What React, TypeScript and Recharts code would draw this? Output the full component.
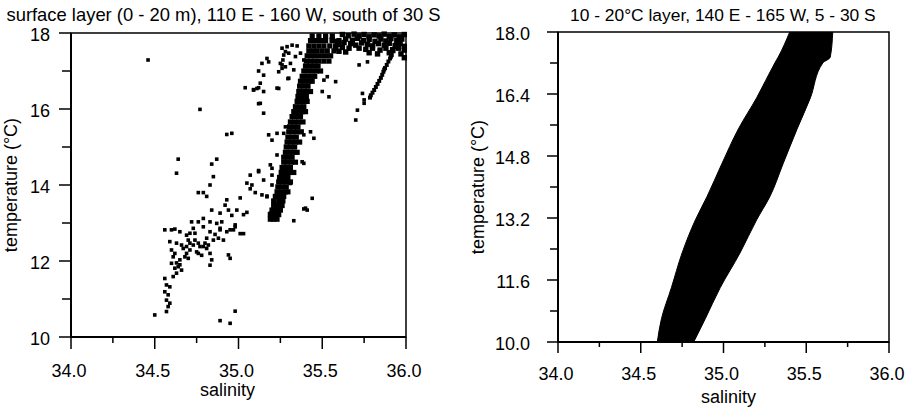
import React from 'react';
import {
  ScatterChart,
  Scatter,
  ComposedChart,
  Area,
  XAxis,
  YAxis,
  ReferenceArea,
  Label
} from 'recharts';

const FONT = '"Liberation Sans", Arial, Helvetica, sans-serif';

// left panel: surface layer T-S points [salinity, temperature]
const lowerCluster: number[][] = [
  [34.76, 13.8], [34.79, 13.8], [34.81, 13.7], [35.07, 14.26], [35.12, 14.38], [35.05, 14.05], [35.07, 13.9],
  [35.1, 13.8], [35.08, 14.0], [35.17, 13.69], [35.01, 13.66], [34.93, 13.61], [34.92, 13.47], [34.94, 13.34],
  [34.99, 13.34], [34.84, 13.34], [34.89, 13.26], [34.83, 13.03], [34.87, 12.99], [34.9, 13.03], [34.89, 12.86],
  [34.95, 12.82], [34.98, 12.9], [34.79, 13.12], [34.76, 13.03], [34.72, 13.03], [34.73, 12.86], [34.71, 12.73],
  [34.74, 12.73], [34.56, 12.82], [34.6, 12.82], [34.62, 12.84], [34.65, 12.77], [34.69, 12.68], [34.7, 12.55],
  [34.83, 12.77], [34.89, 12.82], [34.93, 12.77], [34.97, 12.82], [34.81, 12.6], [34.85, 12.55], [34.88, 12.6],
  [34.91, 12.55], [34.59, 12.51], [34.63, 12.47], [34.66, 12.42], [34.69, 12.38], [34.71, 12.47], [34.73, 12.42],
  [34.76, 12.47], [34.79, 12.38], [34.82, 12.42], [34.6, 12.29], [34.61, 12.11], [34.6, 11.94], [34.62, 11.81],
  [34.63, 11.68], [34.61, 11.59], [34.65, 12.03], [34.64, 11.85], [34.66, 11.76], [34.67, 12.33], [34.69, 12.2],
  [34.71, 12.29], [34.75, 12.24], [34.77, 12.38], [34.8, 12.47], [34.81, 12.33], [34.83, 12.2], [34.68, 12.11],
  [34.7, 12.07], [34.84, 12.03], [34.83, 11.89], [34.56, 11.54], [34.57, 11.37], [34.59, 11.32], [34.56, 11.19],
  [34.58, 11.11], [34.57, 10.97], [34.59, 10.89], [34.58, 10.8], [34.57, 10.67], [34.98, 12.95], [35.01, 12.72],
  [35.03, 12.72], [34.96, 13.2], [35.03, 13.22], [35.05, 13.28], [34.86, 12.7], [34.76, 12.2], [34.78, 12.15],
  [34.74, 12.55], [34.79, 12.9], [34.62, 12.2], [34.63, 11.95], [34.65, 11.9]
];

const trunk: number[][] = [
  [35.19, 13.1], [35.21, 13.1], [35.23, 13.1], [35.19, 13.22], [35.215, 13.22], [35.24, 13.22],
  [35.2, 13.34], [35.225, 13.34], [35.25, 13.34], [35.21, 13.46], [35.235, 13.46], [35.26, 13.46],
  [35.21, 13.58], [35.24, 13.58], [35.265, 13.58], [35.22, 13.7], [35.245, 13.7], [35.27, 13.7],
  [35.23, 13.82], [35.255, 13.82], [35.28, 13.82], [35.295, 13.82], [35.235, 13.95], [35.26, 13.95], [35.285, 13.95],
  [35.24, 14.08], [35.265, 14.08], [35.29, 14.08], [35.31, 14.08], [35.245, 14.2], [35.27, 14.2], [35.295, 14.2],
  [35.255, 14.33], [35.28, 14.33], [35.305, 14.33], [35.33, 14.33], [35.26, 14.46], [35.285, 14.46], [35.31, 14.46],
  [35.27, 14.6], [35.29, 14.6], [35.315, 14.6], [35.34, 14.6], [35.27, 14.73], [35.295, 14.73], [35.32, 14.73],
  [35.28, 14.86], [35.3, 14.86], [35.325, 14.86], [35.35, 14.86], [35.285, 15.0], [35.31, 15.0], [35.335, 15.0],
  [35.29, 15.13], [35.315, 15.13], [35.34, 15.13], [35.365, 15.13], [35.295, 15.26], [35.32, 15.26], [35.345, 15.26],
  [35.3, 15.4], [35.325, 15.4], [35.35, 15.4], [35.375, 15.4], [35.305, 15.53], [35.33, 15.53], [35.355, 15.53],
  [35.31, 15.66], [35.335, 15.66], [35.36, 15.66], [35.385, 15.66], [35.32, 15.8], [35.345, 15.8], [35.37, 15.8],
  [35.33, 15.93], [35.355, 15.93], [35.38, 15.93], [35.4, 15.93], [35.34, 16.06], [35.365, 16.06], [35.39, 16.06],
  [35.35, 16.2], [35.37, 16.2], [35.395, 16.2], [35.41, 16.2], [35.355, 16.33], [35.38, 16.33], [35.405, 16.33],
  [35.36, 16.46], [35.385, 16.46], [35.41, 16.46], [35.43, 16.46], [35.365, 16.6], [35.39, 16.6], [35.415, 16.6],
  [35.37, 16.73], [35.395, 16.73], [35.42, 16.73], [35.44, 16.73], [35.38, 16.86], [35.405, 16.86], [35.43, 16.86],
  [35.455, 16.86], [35.39, 17.0], [35.415, 17.0], [35.44, 17.0], [35.465, 17.0], [35.49, 17.0],
  [35.4, 17.13], [35.425, 17.13], [35.45, 17.13], [35.475, 17.13], [35.405, 17.26], [35.43, 17.26], [35.455, 17.26],
  [35.48, 17.26], [35.51, 17.26], [35.54, 17.26], [35.41, 17.4], [35.435, 17.4], [35.46, 17.4], [35.49, 17.4],
  [35.52, 17.4], [35.55, 17.4], [35.42, 17.53], [35.445, 17.53], [35.47, 17.53], [35.5, 17.53], [35.53, 17.53],
  [35.57, 17.53], [35.42, 17.66], [35.45, 17.66], [35.48, 17.66], [35.51, 17.66], [35.545, 17.66], [35.58, 17.66],
  [35.43, 17.8], [35.46, 17.8], [35.49, 17.8], [35.52, 17.8], [35.56, 17.8], [35.6, 17.8], [35.44, 17.92],
  [35.48, 17.92], [35.52, 17.92], [35.56, 17.92]
];

const upperCluster: number[][] = [
  [35.62, 17.96], [35.655, 17.93], [35.69, 17.97], [35.72, 17.92], [35.75, 17.96], [35.78, 17.9], [35.81, 17.95],
  [35.84, 17.92], [35.87, 17.97], [35.9, 17.91], [35.93, 17.95], [35.96, 17.9], [35.99, 17.96],
  [35.64, 17.84], [35.68, 17.81], [35.71, 17.86], [35.745, 17.8], [35.78, 17.83], [35.815, 17.78], [35.85, 17.84],
  [35.88, 17.79], [35.91, 17.85], [35.945, 17.8], [35.975, 17.84],
  [35.67, 17.72], [35.7, 17.68], [35.735, 17.74], [35.77, 17.7], [35.8, 17.66], [35.835, 17.72], [35.87, 17.68],
  [35.9, 17.73], [35.935, 17.67], [35.965, 17.72], [35.99, 17.65],
  [35.72, 17.6], [35.76, 17.57], [35.8, 17.6], [35.845, 17.55], [35.88, 17.6], [35.92, 17.56], [35.955, 17.6],
  [35.78, 17.48], [35.83, 17.45], [35.9, 17.48], [35.97, 17.45], [35.99, 17.55], [35.99, 17.35],
  [35.56, 17.82], [35.59, 17.78], [35.6, 17.7], [35.63, 17.75], [35.62, 17.62], [35.66, 17.6], [35.58, 17.6],
  [35.6, 17.52], [35.64, 17.5]
];

const rightBranch: number[][] = [
  [35.955, 17.82], [35.945, 17.72], [35.935, 17.62], [35.925, 17.52], [35.915, 17.42], [35.905, 17.33],
  [35.895, 17.25], [35.885, 17.16], [35.875, 17.08], [35.865, 16.98], [35.858, 16.9], [35.85, 16.82],
  [35.84, 16.74], [35.83, 16.66], [35.82, 16.58], [35.81, 16.5], [35.8, 16.43], [35.79, 16.36], [35.785, 16.3],
  [35.91, 17.38], [35.87, 17.04]
];

const scattered: number[][] = [
  [34.46, 17.29], [34.77, 15.99], [35.04, 16.56], [35.09, 16.51], [35.12, 16.56], [35.12, 17.0], [35.12, 16.14],
  [34.93, 15.33], [34.96, 15.36], [34.64, 14.68], [34.87, 14.68], [34.84, 14.55], [34.63, 14.31], [34.85, 14.22],
  [34.83, 14.0], [35.15, 15.89], [35.13, 16.15], [35.17, 17.33], [35.18, 17.24], [35.14, 17.2], [35.15, 16.89],
  [35.13, 16.68], [35.11, 16.54], [35.09, 16.5], [35.15, 16.46], [35.24, 16.54], [35.3, 16.81], [35.5, 16.46],
  [35.54, 16.32], [35.45, 15.23], [35.53, 16.85], [35.51, 16.76], [35.58, 16.72], [35.74, 16.41], [35.75, 16.24],
  [35.75, 16.15], [35.71, 15.97], [35.7, 15.71], [35.77, 17.24], [35.72, 17.16], [35.38, 14.61], [35.39, 14.57],
  [35.31, 14.04], [35.44, 13.65], [35.4, 13.39], [35.41, 13.34], [35.33, 13.06], [35.39, 13.37], [35.23, 14.79],
  [35.12, 14.35], [35.15, 14.13], [35.2, 14.26], [35.2, 14.0], [35.14, 13.74], [35.17, 13.71], [35.18, 15.32],
  [35.2, 15.18], [35.19, 14.53], [35.2, 14.44], [34.5, 10.58], [34.98, 10.68], [34.89, 10.43], [34.95, 10.36],
  [34.94, 12.16], [34.95, 12.07], [35.26, 17.6], [35.29, 17.64], [35.32, 17.68], [35.35, 17.66], [35.28, 17.51],
  [35.27, 17.42], [35.3, 17.47], [35.34, 17.38], [35.37, 17.47], [35.39, 17.29], [35.25, 17.2], [35.26, 17.07],
  [35.28, 17.11], [35.31, 17.2], [35.33, 17.03], [35.24, 16.98], [35.265, 17.29], [35.26, 17.16], [35.295, 16.8],
  [35.23, 16.55], [35.27, 15.36], [35.28, 15.53], [35.23, 15.36], [35.33, 15.4], [35.39, 15.32], [35.43, 15.4],
  [35.22, 13.12], [35.19, 13.26]
];

// right panel: 10-20°C layer envelope, salinity range per temperature
const bandTemp = [10.0, 10.6, 11.4, 12.3, 13.15, 13.75, 14.6, 15.5, 16.3, 17.2, 17.35, 18.0];
const bandLeft = [34.6, 34.625, 34.685, 34.75, 34.83, 34.9, 34.99, 35.09, 35.2, 35.31, 35.33, 35.4];
const bandRight = [34.82, 34.89, 34.98, 35.1, 35.2, 35.28, 35.36, 35.445, 35.525, 35.6, 35.645, 35.66];

const salMajor = [34.0, 34.5, 35.0, 35.5, 36.0];
const salMinor = [34.25, 34.75, 35.25, 35.75];
const leftTempMajor = [10, 12, 14, 16, 18];
const leftTempMinor = [11, 13, 15, 17];
const rightTempMajor = [10.0, 11.6, 13.2, 14.8, 16.4, 18.0];
const rightTempMinor = [10.8, 12.4, 14.0, 15.6, 17.2];

const toPts = (arr: number[][]) => arr.map(([s, t]) => ({ s, t }));
const bandData = bandTemp.map((t, i) => ({ t, range: [bandLeft[i], bandRight[i]] }));

const sortNum = (a: number[]) => [...a].sort((x, y) => x - y);

function tickRenderer(opts: {
  side: 'bottom' | 'left';
  majors: number[];
  len: number;
  minorLen: number;
  gap: number;
  fmt: (v: number) => string;
}) {
  return (p: any) => {
    const v = p.payload.value;
    const major = opts.majors.some((m) => Math.abs(m - v) < 1e-6);
    const len = major ? opts.len : opts.minorLen;
    if (opts.side === 'bottom') {
      return (
        <g>
          <line x1={p.x} y1={p.y} x2={p.x} y2={p.y + len} stroke="#000" strokeWidth={1.5} />
          {major && (
            <text x={p.x - 2} y={p.y + opts.gap} textAnchor="middle" fontSize={18} fill="#000">
              {opts.fmt(v)}
            </text>
          )}
        </g>
      );
    }
    return (
      <g>
        <line x1={p.x} y1={p.y} x2={p.x - len} y2={p.y} stroke="#000" strokeWidth={1.5} />
        {major && (
          <text x={p.x - opts.gap} y={p.y + 8} textAnchor="end" fontSize={18} fill="#000">
            {opts.fmt(v)}
          </text>
        )}
      </g>
    );
  };
}

const square = (size: number) => (p: any) =>
  <rect x={p.cx - size / 2} y={p.cy - size / 2} width={size} height={size} fill="#000" />;

function SurfacePanel() {
  const series: [number[][], number][] = [
    [lowerCluster, 3.6],
    [trunk, 5.2],
    [upperCluster, 5.4],
    [rightBranch, 4],
    [scattered, 3.6]
  ];
  return (
    <ScatterChart width={450} height={407} margin={{ top: 33, right: 44, bottom: 0, left: 0 }}>
      <ReferenceArea x1={34} x2={36} y1={10} y2={18} fill="none" stroke="#000" strokeWidth={1.5} />
      <XAxis
        type="number"
        dataKey="s"
        domain={[34, 36]}
        ticks={sortNum([...salMajor, ...salMinor])}
        interval={0}
        height={70}
        tickSize={0}
        tickMargin={0}
        tickLine={false}
        stroke="#000"
        strokeWidth={2}
        tick={tickRenderer({ side: 'bottom', majors: salMajor, len: 12, minorLen: 6, gap: 40, fmt: (v) => v.toFixed(1) })}
      >
        <Label value="salinity" position="insideBottom" offset={11} dx={-11} fontSize={18} fill="#000" />
      </XAxis>
      <YAxis
        type="number"
        dataKey="t"
        domain={[10, 18]}
        ticks={sortNum([...leftTempMajor, ...leftTempMinor])}
        interval={0}
        width={71}
        tickSize={0}
        tickMargin={0}
        tickLine={false}
        stroke="#000"
        strokeWidth={2}
        tick={tickRenderer({ side: 'left', majors: leftTempMajor, len: 12, minorLen: 9, gap: 21, fmt: (v) => String(v) })}
      >
        <Label
          value="temperature (°C)"
          angle={-90}
          position="insideLeft"
          offset={17}
          dx={-6}
          fontSize={18}
          fill="#000"
          style={{ textAnchor: 'middle' }}
        />
      </YAxis>
      {series.map(([d, size], i) => (
        <Scatter key={i} data={toPts(d)} fill="#000" shape={square(size)} isAnimationActive={false} />
      ))}
    </ScatterChart>
  );
}

function LayerPanel() {
  return (
    <ComposedChart
      width={457}
      height={407}
      layout="vertical"
      data={bandData}
      margin={{ top: 32, right: 18, bottom: 0, left: 0 }}
    >
      <ReferenceArea x1={34} x2={36} y1={10} y2={18} fill="none" stroke="#000" strokeWidth={1.5} />
      <XAxis
        type="number"
        domain={[34, 36]}
        ticks={sortNum([...salMajor, ...salMinor])}
        interval={0}
        height={65}
        tickSize={0}
        tickMargin={0}
        tickLine={false}
        stroke="#000"
        strokeWidth={2}
        tick={tickRenderer({ side: 'bottom', majors: salMajor, len: 11, minorLen: 5, gap: 38, fmt: (v) => v.toFixed(1) })}
      >
        <Label value="salinity" position="insideBottom" offset={4} dx={5} fontSize={18} fill="#000" />
      </XAxis>
      <YAxis
        type="number"
        dataKey="t"
        domain={[10, 18]}
        reversed
        allowDataOverflow
        ticks={sortNum([...rightTempMajor, ...rightTempMinor])}
        interval={0}
        width={108}
        tickSize={0}
        tickMargin={0}
        tickLine={false}
        stroke="#000"
        strokeWidth={2}
        tick={tickRenderer({ side: 'left', majors: rightTempMajor, len: 11, minorLen: 8, gap: 28, fmt: (v) => v.toFixed(1) })}
      >
        <Label
          value="temperature (°C)"
          angle={-90}
          position="insideLeft"
          offset={33}
          dx={-5}
          fontSize={18}
          fill="#000"
          style={{ textAnchor: 'middle' }}
        />
      </YAxis>
      <Area
        dataKey="range"
        type="monotone"
        stroke="#000"
        strokeWidth={1}
        fill="#000"
        fillOpacity={1}
        isAnimationActive={false}
      />
    </ComposedChart>
  );
}

export default function App() {
  return (
    <div
      style={{
        position: 'absolute',
        left: 0,
        top: 0,
        width: 907,
        height: 407,
        background: '#fff',
        fontFamily: FONT,
        color: '#000'
      }}
    >
      <div style={{ position: 'absolute', left: 0, top: 4, width: 447, textAlign: 'center', fontSize: 18.4, whiteSpace: 'nowrap' }}>
        surface layer (0 - 20 m), 110 E - 160 W, south of 30 S
      </div>
      <div style={{ position: 'absolute', left: 570, top: 5, width: 301, textAlign: 'center', fontSize: 17.4, whiteSpace: 'nowrap' }}>
        10 - 20°C layer, 140 E - 165 W, 5 - 30 S
      </div>
      <div style={{ position: 'absolute', left: 0, top: 0 }}>
        <SurfacePanel />
      </div>
      <div style={{ position: 'absolute', left: 450, top: 0 }}>
        <LayerPanel />
      </div>
    </div>
  );
}
